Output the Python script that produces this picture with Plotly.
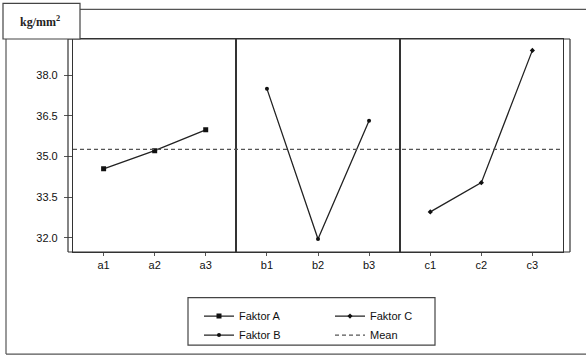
import plotly.graph_objects as go
from plotly.subplots import make_subplots

# Data
cats_a = ["a1", "a2", "a3"]
cats_b = ["b1", "b2", "b3"]
cats_c = ["c1", "c2", "c3"]
vals_a = [34.55, 35.22, 35.99]
vals_b = [37.50, 31.96, 36.32]
vals_c = [32.96, 34.04, 38.92]
mean_val = 35.27
y_ticks = [32.0, 33.5, 35.0, 36.5, 38.0]
unit_label = "kg/mm<sup>2</sup>"

W, H = 586, 361
L, R, T, B = 73, 23, 39, 107
pw = W - L - R
ph = H - T - B

def px_x(p):
    return (p - L) / pw

def px_y(p):
    return (H - B - p) / ph

fig = make_subplots(rows=1, cols=3, shared_yaxes=True, horizontal_spacing=0)

font = dict(family="Liberation Sans, Arial, sans-serif", size=11, color="#111")

fig.add_trace(go.Scatter(x=cats_a, y=vals_a, mode="lines+markers", name="Faktor A",
                         line=dict(color="#222", width=1.3),
                         marker=dict(symbol="square", size=5, color="#111"),
                         legend="legend"), row=1, col=1)
fig.add_trace(go.Scatter(x=cats_b, y=vals_b, mode="lines+markers", name="Faktor B",
                         line=dict(color="#222", width=1.3),
                         marker=dict(symbol="circle", size=4, color="#111"),
                         legend="legend"), row=1, col=2)
fig.add_trace(go.Scatter(x=cats_c, y=vals_c, mode="lines+markers", name="Faktor C",
                         line=dict(color="#222", width=1.3),
                         marker=dict(symbol="diamond", size=4, color="#111"),
                         legend="legend2"), row=1, col=3)

# Mean line across all panels (with legend entry)
fig.add_shape(type="line", xref="paper", yref="y", x0=0, x1=1, y0=mean_val, y1=mean_val,
              line=dict(color="#555", width=1.3, dash="4px,3px"),
              showlegend=True, name="Mean", legend="legend2", layer="above")

for i in range(1, 4):
    fig.update_xaxes(row=1, col=i, type="category", range=[-0.6, 2.6],
                     showline=True, linecolor="#333", linewidth=1.2, mirror=True,
                     ticks="outside", ticklen=3, tickcolor="#555",
                     showgrid=False, zeroline=False, tickfont=font, fixedrange=True)
fig.update_yaxes(range=[31.48, 39.34], tickvals=y_ticks, tickformat=".1f",
                 showline=True, linecolor="#333", linewidth=1.2, mirror=True,
                 ticks="outside", ticklen=8, tickcolor="#555", ticklabelstandoff=4,
                 showgrid=False, zeroline=False, tickfont=font)
fig.update_yaxes(ticks="", row=1, col=2)
fig.update_yaxes(ticks="", row=1, col=3)

frame = dict(color="#555", width=1.2)
shapes = [
    # outer frame (top, left, bottom)
    dict(type="line", x0=px_x(80), x1=px_x(586), y0=px_y(9), y1=px_y(9), line=frame),
    dict(type="line", x0=px_x(6), x1=px_x(6), y0=px_y(39), y1=px_y(357), line=frame),
    dict(type="line", x0=px_x(6), x1=px_x(586), y0=px_y(357), y1=px_y(357), line=frame),
    # extra double lines around plot
    dict(type="line", x0=px_x(68), x1=px_x(68), y0=0, y1=1, line=dict(color="#333", width=1.2)),
    dict(type="line", x0=px_x(570), x1=px_x(570), y0=0, y1=1, line=dict(color="#333", width=1.2)),
    dict(type="line", x0=px_x(68), x1=px_x(570), y0=0, y1=0, line=dict(color="#333", width=1.2)),
    dict(type="line", x0=px_x(68), x1=px_x(570), y0=1, y1=1, line=dict(color="#333", width=1.2)),
    # unit label box
    dict(type="rect", x0=px_x(3), x1=px_x(80), y0=px_y(39), y1=px_y(3),
         line=dict(color="#444", width=1.2), fillcolor="white"),
    # legend box
    dict(type="rect", x0=px_x(188), x1=px_x(435), y0=px_y(348), y1=px_y(300),
         line=dict(color="#444", width=1.2)),
]
for s in shapes:
    fig.add_shape(xref="paper", yref="paper", **s)

fig.add_annotation(xref="paper", yref="paper", x=px_x(40), y=px_y(21),
                   xanchor="center", yanchor="middle",
                   text="<b>" + unit_label + "</b>", showarrow=False,
                   font=dict(family="Liberation Serif, Times New Roman, serif", size=12, color="#222"))

leg_common = dict(orientation="v", bgcolor="rgba(0,0,0,0)", borderwidth=0,
                  font=dict(family="Liberation Sans, Arial, sans-serif", size=11, color="#111"),
                  yanchor="top", xanchor="left", tracegroupgap=0, itemwidth=30)
fig.update_layout(
    width=W, height=H,
    margin=dict(l=L, r=R, t=T, b=B),
    paper_bgcolor="white", plot_bgcolor="white",
    font=font,
    legend=dict(x=px_x(199), y=px_y(304), **leg_common),
    legend2=dict(x=px_x(330), y=px_y(304), **leg_common),
)

fig.write_html("out.html", config={"displayModeBar": False},
               post_script="document.body.style.margin='0';")
